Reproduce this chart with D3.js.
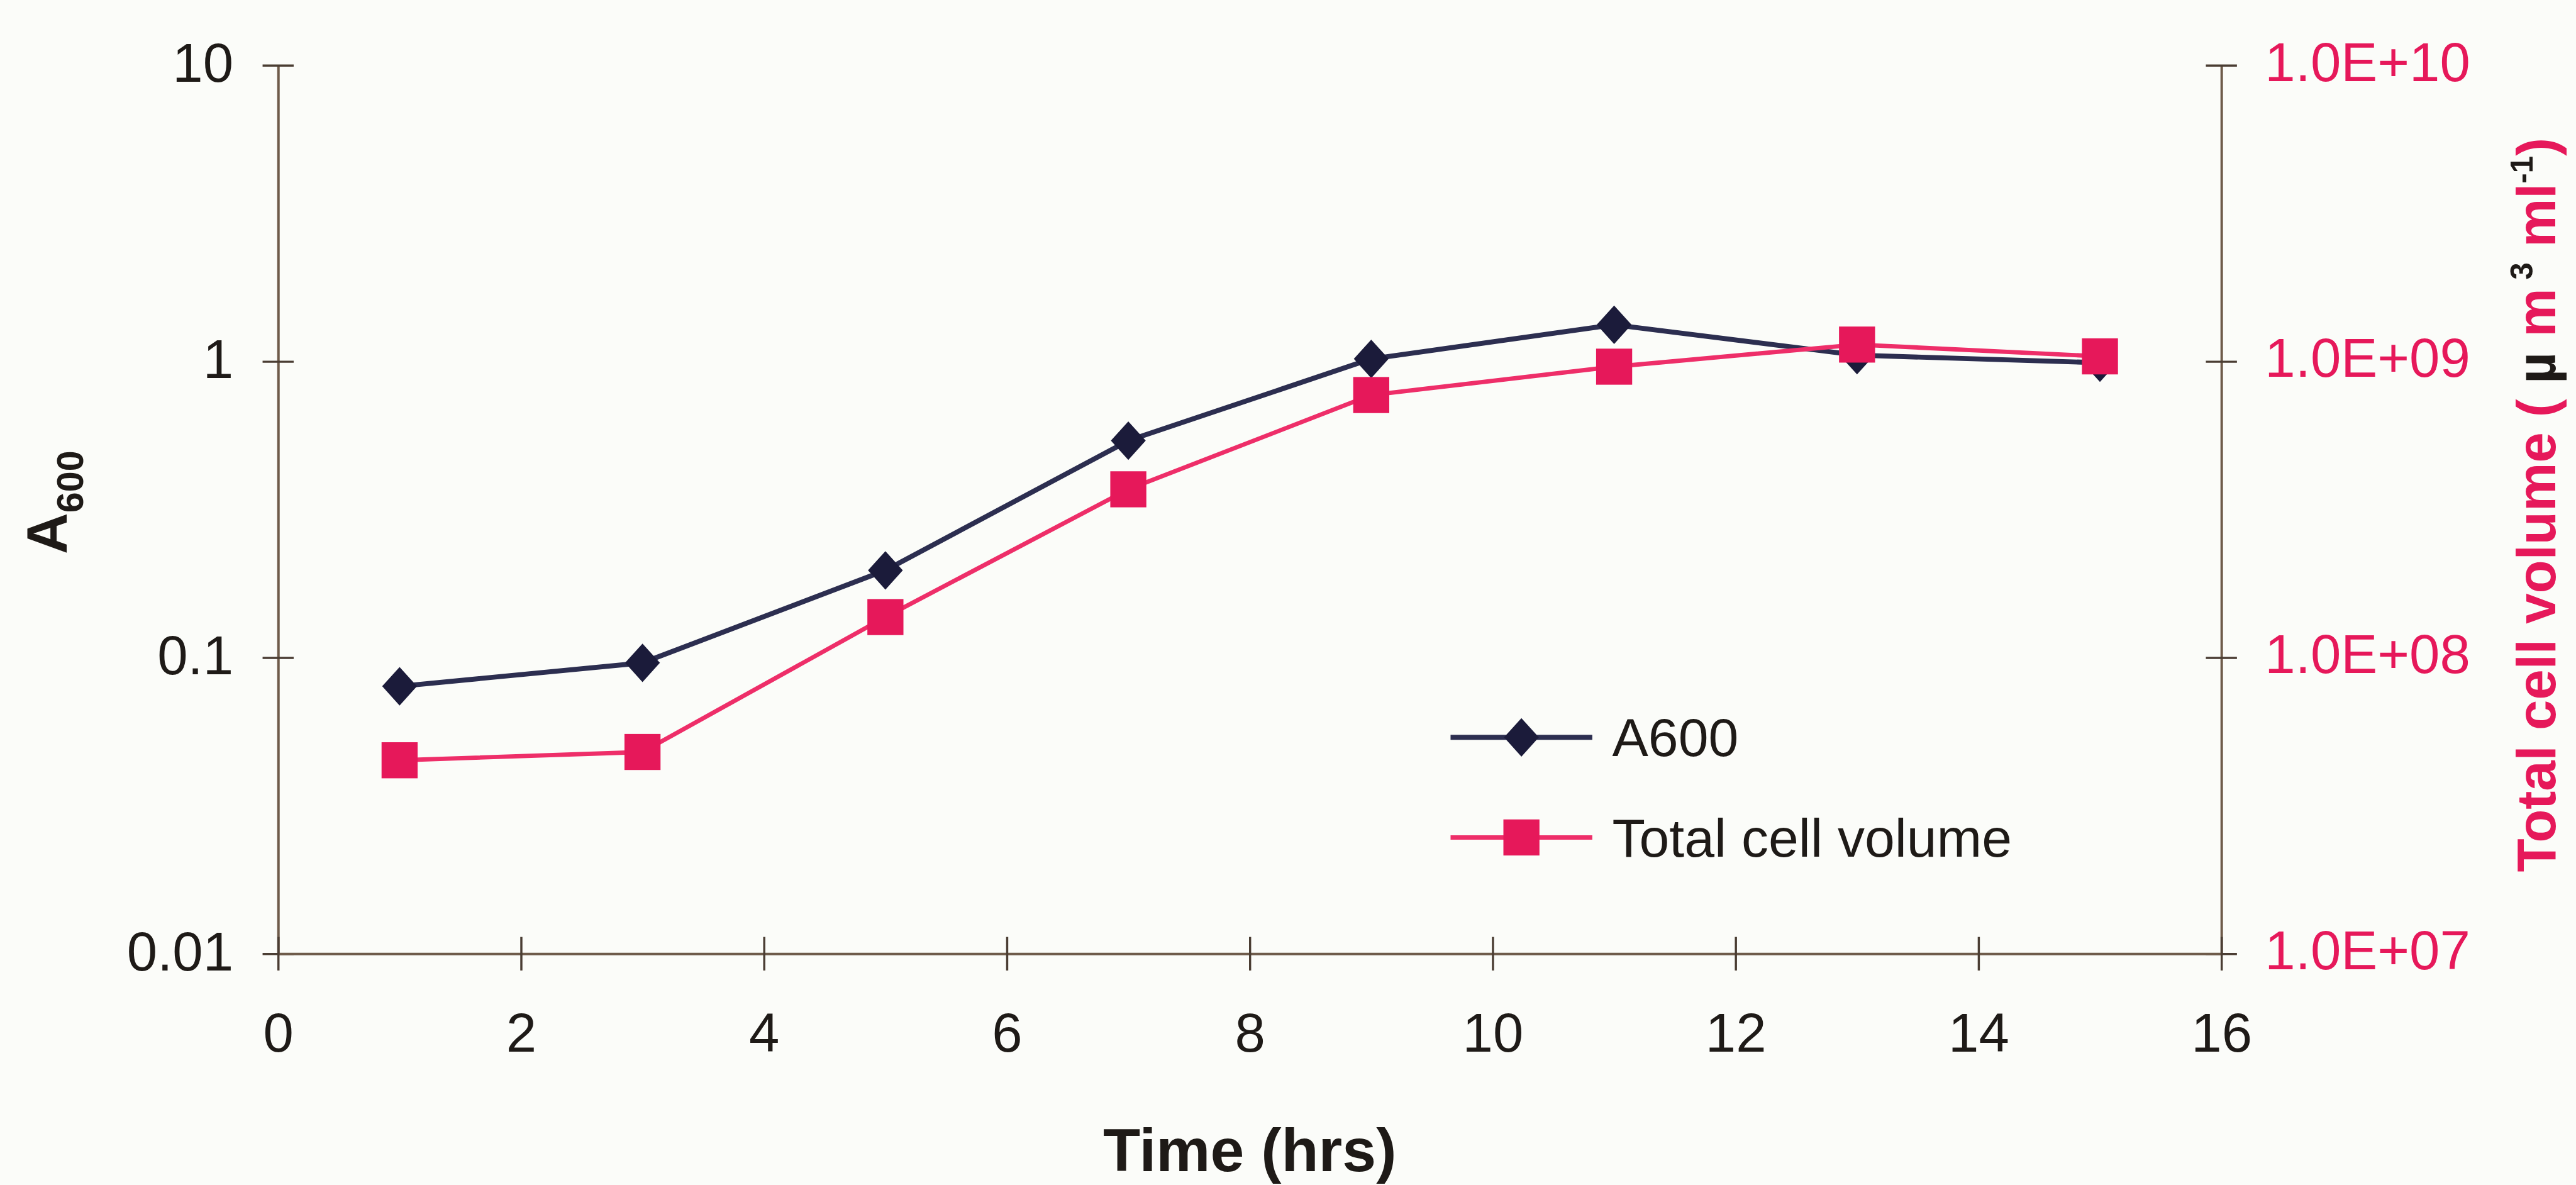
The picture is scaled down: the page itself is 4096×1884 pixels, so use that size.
<!DOCTYPE html>
<html>
<head>
<meta charset="utf-8">
<script src="https://cdn.jsdelivr.net/npm/d3@7"></script>
<style>
  html, body { margin: 0; padding: 0; background: #fbfcf9; }
  svg { display: block; }
  text { font-family: "Liberation Sans", Arial, sans-serif; }
</style>
</head>
<body>
<div id="chart"></div>
<script>
// data
const hours = [1, 3, 5, 7, 9, 11, 13, 15];
const a600 = [0.080, 0.096, 0.197, 0.54, 1.02, 1.33, 1.05, 0.99];
const cellVolume = [4.5e7, 4.8e7, 1.37e8, 3.7e8, 7.7e8, 9.6e8, 1.14e9, 1.04e9];

const xTicks = [0, 2, 4, 6, 8, 10, 12, 14, 16];
const leftTicks = [0.01, 0.1, 1, 10];
const leftTickLabels = ["0.01", "0.1", "1", "10"];
const rightTicks = [1e7, 1e8, 1e9, 1e10];
const rightTickLabels = ["1.0E+07", "1.0E+08", "1.0E+09", "1.0E+10"];
const seriesNames = ["A600", "Total cell volume"];

// colours
const ink = "#1e1a17";
const axisColor = "#6e5b4a";
const navy = "#1b1b3a";
const navyLine = "#2c2e50";
const pink = "#e6185a";
const pinkLine = "#ee2e69";

// drawn in the reference's own pixel size, the viewBox scales it down to the window
const W = 4143, H = 1906;
const svg = d3.select("#chart").append("svg")
  .attr("width", 4096)
  .attr("height", 1884)
  .attr("viewBox", [0, 0, W, H]);

svg.append("rect").attr("width", W).attr("height", H).attr("fill", "#fbfcf9");

const plot = {left: 447, right: 3573, top: 105, bottom: 1534};

const x = d3.scaleLinear().domain([0, 16]).range([plot.left, plot.right]);
const yLeft = d3.scaleLog().domain([0.01, 10]).range([plot.bottom, plot.top]);
const yRight = d3.scaleLog().domain([1e7, 1e10]).range([plot.bottom, plot.top]);

const tickFont = 88;

// left axis
svg.append("g")
  .attr("transform", `translate(${plot.left},0)`)
  .call(d3.axisLeft(yLeft).tickValues(leftTicks)
    .tickFormat((d, i) => leftTickLabels[i])
    .tickSize(25).tickSizeOuter(0).tickPadding(47))
  .call(g => g.select(".domain").attr("stroke", axisColor).attr("stroke-width", 4))
  .call(g => g.selectAll(".tick line").attr("x1", 25).attr("stroke", "#4a3d33").attr("stroke-width", 3.5))
  .call(g => g.selectAll(".tick text").attr("font-size", tickFont).attr("fill", ink)
    .attr("font-family", "Liberation Sans, Arial, sans-serif").attr("dy", "0.3em"));

// right axis
svg.append("g")
  .attr("transform", `translate(${plot.right},0)`)
  .call(d3.axisRight(yRight).tickValues(rightTicks)
    .tickFormat((d, i) => rightTickLabels[i])
    .tickSize(25).tickSizeOuter(0).tickPadding(45))
  .call(g => g.select(".domain").attr("stroke", axisColor).attr("stroke-width", 4))
  .call(g => g.selectAll(".tick line").attr("x1", -25).attr("stroke", "#4a3d33").attr("stroke-width", 3.5))
  .call(g => g.selectAll(".tick text").attr("font-size", tickFont).attr("fill", pink)
    .attr("font-family", "Liberation Sans, Arial, sans-serif").attr("dy", "0.28em"));

// bottom axis
svg.append("g")
  .attr("transform", `translate(0,${plot.bottom})`)
  .call(d3.axisBottom(x).tickValues(xTicks)
    .tickFormat(d3.format("d"))
    .tickSize(27).tickSizeOuter(0).tickPadding(68))
  .call(g => g.select(".domain").attr("stroke", axisColor).attr("stroke-width", 4))
  .call(g => g.selectAll(".tick line").attr("y1", -27).attr("stroke", "#4a3d33").attr("stroke-width", 3.5))
  .call(g => g.selectAll(".tick text").attr("font-size", tickFont).attr("fill", ink)
    .attr("font-family", "Liberation Sans, Arial, sans-serif"));

// axis titles
svg.append("text")
  .attr("x", x(8))
  .attr("y", 1884)
  .attr("text-anchor", "middle")
  .attr("font-size", 98)
  .attr("font-weight", "bold")
  .attr("fill", ink)
  .text("Time (hrs)");

const leftTitle = svg.append("text")
  .attr("transform", "translate(107,808) rotate(-90)")
  .attr("text-anchor", "middle")
  .attr("font-weight", "bold")
  .attr("fill", ink);
leftTitle.append("tspan").attr("font-size", 92).text("A");
leftTitle.append("tspan").attr("font-size", 60).attr("dy", 26).text("600");

const rightTitle = svg.append("text")
  .attr("transform", "translate(4110,812) rotate(-90)")
  .attr("text-anchor", "middle")
  .attr("font-weight", "bold")
  .attr("font-size", 88)
  .attr("fill", pink);
rightTitle.append("tspan").text("Total cell volume ( ");
rightTitle.append("tspan").attr("fill", ink).text("\u00b5");
rightTitle.append("tspan").text(" m");
rightTitle.append("tspan").attr("fill", ink).attr("font-size", 50).attr("dy", -36).text(" 3");
rightTitle.append("tspan").attr("dy", 36).text(" ml");
rightTitle.append("tspan").attr("fill", ink).attr("font-size", 50).attr("dy", -36).text("-1");
rightTitle.append("tspan").attr("dy", 36).text(")");

// series
const a600Data = hours.map((h, i) => ({h, v: a600[i]}));
const volData = hours.map((h, i) => ({h, v: cellVolume[i]}));

const diamond = (cx, cy) => `M${cx},${cy - 31}L${cx + 28},${cy}L${cx},${cy + 31}L${cx - 28},${cy}Z`;
const sq = 58;

svg.append("path")
  .datum(a600Data)
  .attr("fill", "none")
  .attr("stroke", navyLine)
  .attr("stroke-width", 8)
  .attr("stroke-linejoin", "round")
  .attr("d", d3.line().x(d => x(d.h)).y(d => yLeft(d.v)));

svg.append("g").selectAll("path")
  .data(a600Data)
  .join("path")
  .attr("d", d => diamond(x(d.h), yLeft(d.v)))
  .attr("fill", navy);

svg.append("path")
  .datum(volData)
  .attr("fill", "none")
  .attr("stroke", pinkLine)
  .attr("stroke-width", 7)
  .attr("stroke-linejoin", "round")
  .attr("d", d3.line().x(d => x(d.h)).y(d => yRight(d.v)));

svg.append("g").selectAll("rect")
  .data(volData)
  .join("rect")
  .attr("x", d => x(d.h) - sq / 2)
  .attr("y", d => yRight(d.v) - sq / 2)
  .attr("width", sq)
  .attr("height", sq)
  .attr("fill", pink);

// legend
const legend = svg.append("g").attr("transform", "translate(2333,1186)");
const rowGap = 161;

legend.append("line").attr("x1", 0).attr("x2", 228).attr("y1", 0).attr("y2", 0)
  .attr("stroke", navyLine).attr("stroke-width", 8);
legend.append("path").attr("d", diamond(114, 0)).attr("fill", navy);

legend.append("line").attr("x1", 0).attr("x2", 228).attr("y1", rowGap).attr("y2", rowGap)
  .attr("stroke", pinkLine).attr("stroke-width", 7);
legend.append("rect").attr("x", 114 - sq / 2).attr("y", rowGap - sq / 2)
  .attr("width", sq).attr("height", sq).attr("fill", pink);

legend.selectAll("text.label")
  .data(seriesNames)
  .join("text")
  .attr("class", "label")
  .attr("x", 260)
  .attr("y", (d, i) => i * rowGap)
  .attr("dy", "0.35em")
  .attr("font-size", 87)
  .attr("fill", ink)
  .text(d => d);
</script>
</body>
</html>
